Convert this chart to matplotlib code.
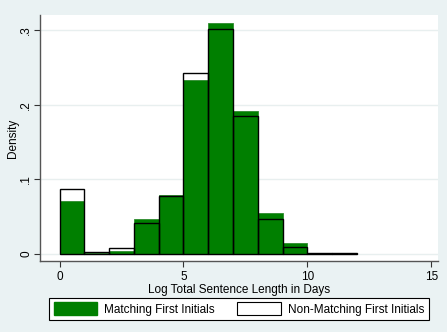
import matplotlib
matplotlib.use("Agg")
import matplotlib.pyplot as plt
from matplotlib.patches import Patch
import numpy as np

# bin left edges (width 1) of log total sentence length in days
bin_edges = [0, 1, 2, 3, 4, 5, 6, 7, 8, 9, 10, 11]
matching = [0.0706, 0.0010, 0.0045, 0.0474, 0.0791, 0.2334, 0.3103, 0.1918, 0.0554, 0.0148, 0.0010, 0.0004]
non_matching = [0.0872, 0.0030, 0.0076, 0.0416, 0.0773, 0.2423, 0.3013, 0.1851, 0.0469, 0.0094, 0.0018, 0.0009]

x_ticks = [0, 5, 10, 15]
y_ticks = [0, 0.1, 0.2, 0.3]
y_tick_labels = ["0", ".1", ".2", ".3"]

plt.rcParams['font.family'] = ['Liberation Sans', 'DejaVu Sans']
bg = '#EAF2F3'
green = '#007F00'

fig = plt.figure(figsize=(4.47, 3.32), dpi=100, facecolor=bg)
ax = fig.add_axes([40/447, 1 - 261/332, 398/447, 246/332])
ax.set_facecolor('white')

ax.bar(bin_edges, matching, width=1, align='edge', color=green,
       edgecolor='#2e8b2e', linewidth=0.6, zorder=2)
ax.bar(bin_edges, non_matching, width=1, align='edge', fill=False,
       edgecolor='black', linewidth=1.0, zorder=3)

ax.set_xlim(-0.79, 15.27)
ax.set_ylim(-0.0094, 0.3205)
ax.set_xticks(x_ticks)
ax.set_yticks(y_ticks, labels=y_tick_labels)
ax.tick_params(axis='x', labelsize=8.5, length=4, width=0.8, color='#333333', pad=3)
ax.tick_params(axis='y', labelsize=8.5, length=4, width=0.8, color='#333333', pad=1.5)
for lab in ax.get_yticklabels():
    lab.set_rotation(90)
    lab.set_va('center')

ax.set_axisbelow(True)
ax.yaxis.grid(True, color='#E8EFEF', linewidth=1.0, zorder=0)

for s in ['top', 'right']:
    ax.spines[s].set_visible(False)
for s in ['left', 'bottom']:
    ax.spines[s].set_color('#555555')
    ax.spines[s].set_linewidth(1.0)

ax.set_xlabel("Log Total Sentence Length in Days", fontsize=8.5, labelpad=1)
ax.set_ylabel("Density", fontsize=8.5, labelpad=1)

handles = [Patch(facecolor=green, edgecolor=green, label="Matching First Initials"),
           Patch(facecolor='white', edgecolor='black', linewidth=0.8, label="Non-Matching First Initials")]
leg = fig.legend(handles=handles, loc='center', bbox_to_anchor=(239/447, 1 - 309/332),
                 ncol=2, fontsize=8.5, frameon=True, fancybox=False,
                 edgecolor='black', framealpha=1, handlelength=3.7, handleheight=1.2,
                 columnspacing=1.9, borderpad=0.35, handletextpad=0.6)
leg.get_frame().set_linewidth(0.8)

fig.savefig("out.png", dpi=100, facecolor=bg)
